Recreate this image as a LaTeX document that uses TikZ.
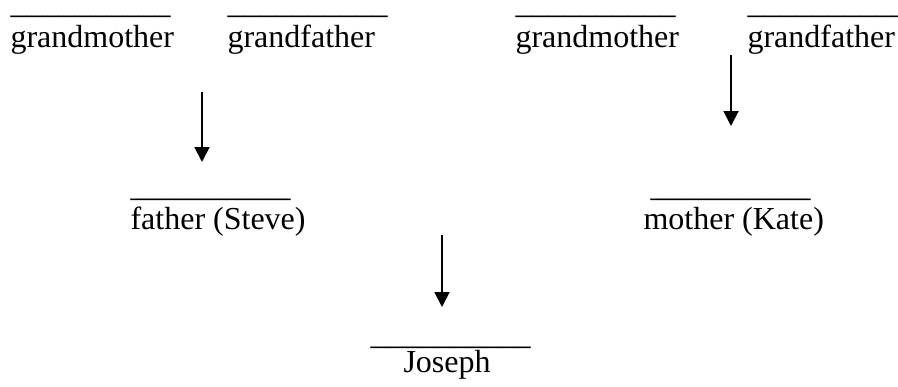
\documentclass[tikz,border=0pt]{standalone}
\usepackage{fontspec}
\setmainfont{Liberation Serif}
\usepackage{tikz}
\usetikzlibrary{arrows.meta}

\newcommand{\blankline}{\_\_\_\_\_\_\_\_\_\_}

\begin{document}
\begin{tikzpicture}[x=0.375pt, y=-0.375pt,
    every node/.style={inner sep=0pt, anchor=base west, font=\fontsize{12}{14}\selectfont},
    descent/.style={line width=0.75pt, -{Triangle[width=5.6pt, length=5.6pt]}}]
    \useasboundingbox (0,0) rectangle (898,387);

    % Grandparents
    \node (gmFline) at (10,14) {\blankline};
    \node (gmF) at (10,48) {grandmother};
    \node (gfFline) at (227,14) {\blankline};
    \node (gfF) at (227,48) {grandfather};
    \node (gmMline) at (515,14) {\blankline};
    \node (gmM) at (515,48) {grandmother};
    \node (gfMline) at (747,14) {\blankline};
    \node (gfM) at (747,48) {grandfather};

    % Parents
    \node (fatherline) at (130,197) {\blankline};
    \node (father) at (130,230) {father (Steve)};
    \node (motherline) at (650,197) {\blankline};
    \node (mother) at (643,230) {mother (Kate)};

    % Child
    \node (josephline) at (370,345) {\blankline};
    \node (joseph) at (403,373) {Joseph};

    % Arrow ends
    \coordinate (fTop) at (202,92);
    \coordinate (fEnd) at (202,162);
    \coordinate (mTop) at (731,55);
    \coordinate (mEnd) at (731,126);
    \coordinate (jTop) at (442,235);
    \coordinate (jEnd) at (442,307);

    \draw[descent] (fTop) -- (fEnd);
    \draw[descent] (mTop) -- (mEnd);
    \draw[descent] (jTop) -- (jEnd);
\end{tikzpicture}
\end{document}
